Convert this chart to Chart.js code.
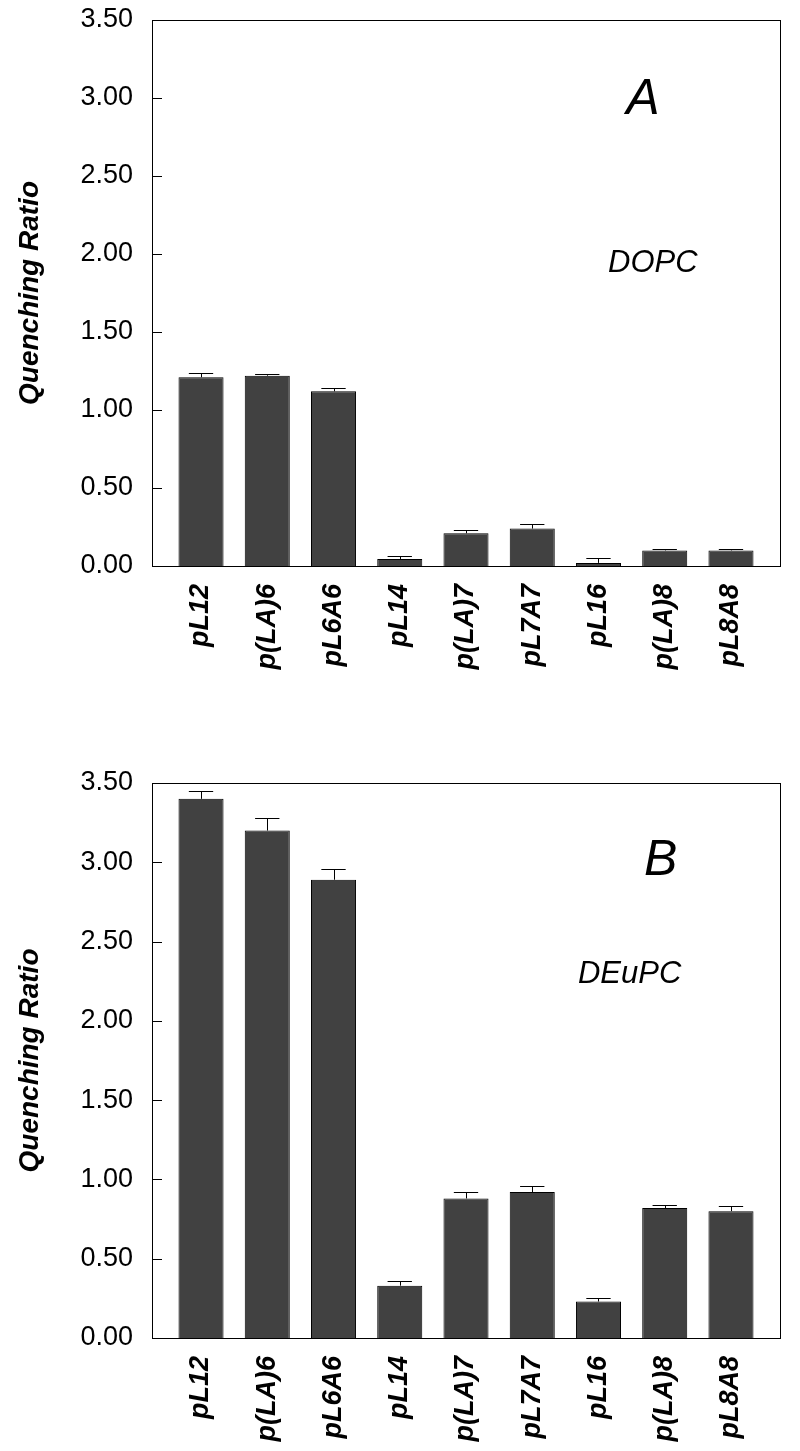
<!DOCTYPE html>
<html>
<head>
<meta charset="utf-8">
<script src="https://cdn.jsdelivr.net/npm/chart.js@4/dist/chart.umd.min.js"></script>
<style>
  body { margin: 0; background: #fff; }
  canvas { display: block; }
</style>
</head>
<body>
<canvas id="chartA" width="800" height="725"></canvas>
<canvas id="chartB" width="800" height="726"></canvas>
<script>
var peptides = ['pL12', 'p(LA)6', 'pL6A6', 'pL14', 'p(LA)7', 'pL7A7', 'pL16', 'p(LA)8', 'pL8A8'];
var yTicks = [0, 0.5, 1, 1.5, 2, 2.5, 3, 3.5];

// panel A, DOPC
var ratioA = [1.21, 1.22, 1.12, 0.045, 0.21, 0.24, 0.02, 0.10, 0.10];
var errA   = [0.03, 0.01, 0.02, 0.02, 0.02, 0.03, 0.03, 0.01, 0.01];

// panel B, DEuPC
var ratioB = [3.40, 3.20, 2.89, 0.33, 0.88, 0.92, 0.23, 0.82, 0.80];
var errB   = [0.05, 0.08, 0.07, 0.03, 0.04, 0.04, 0.02, 0.02, 0.035];

var FONT = "'Liberation Sans', Arial, sans-serif";

// draws the frame, inward y ticks, error bars and the panel labels
function panelPlugin(errs, letter, letterPos, lipid, lipidPos) {
    return {
        id: 'panel' + letter,
        afterDatasetsDraw: function (chart) {
            var ctx = chart.ctx;
            var area = chart.chartArea;
            var xs = chart.scales.x, ys = chart.scales.y;
            var meta = chart.getDatasetMeta(0);
            var vals = chart.data.datasets[0].data;
            ctx.save();
            ctx.strokeStyle = '#000';
            ctx.lineWidth = 1;
            // error bars (upper half only shows)
            for (var i = 0; i < meta.data.length; i++) {
                var bar = meta.data[i];
                var yTop = ys.getPixelForValue(vals[i].y);
                var yErr = ys.getPixelForValue(vals[i].y + errs[i]);
                var half = bar.width * 0.27;
                ctx.beginPath();
                ctx.moveTo(Math.round(bar.x) + 0.5, yTop);
                ctx.lineTo(Math.round(bar.x) + 0.5, Math.round(yErr) + 0.5);
                ctx.moveTo(bar.x - half, Math.round(yErr) + 0.5);
                ctx.lineTo(bar.x + half, Math.round(yErr) + 0.5);
                ctx.stroke();
            }
            // frame
            ctx.strokeRect(Math.round(area.left) + 0.5, Math.round(area.top) + 0.5,
                Math.round(area.right - area.left), Math.round(area.bottom - area.top));
            // inward ticks on left axis
            ys.ticks.forEach(function (t) {
                var py = Math.round(ys.getPixelForValue(t.value)) + 0.5;
                ctx.beginPath();
                ctx.moveTo(area.left, py);
                ctx.lineTo(area.left + 10, py);
                ctx.stroke();
            });
            // panel letter and lipid name
            ctx.fillStyle = '#000';
            ctx.textAlign = 'center';
            ctx.textBaseline = 'alphabetic';
            ctx.font = 'italic 50px ' + FONT;
            ctx.fillText(letter, xs.getPixelForValue(letterPos[0]), ys.getPixelForValue(letterPos[1]));
            ctx.font = 'italic 31px ' + FONT;
            ctx.fillText(lipid, xs.getPixelForValue(lipidPos[0]), ys.getPixelForValue(lipidPos[1]));
            ctx.restore();
        }
    };
}

function makeChart(id, values, errs, padTop, axisHeight, letter, letterPos, lipid, lipidPos) {
    var points = [];
    for (var i = 0; i < peptides.length; i++) {
        points.push({ x: i, y: values[i] });
    }
    return new Chart(document.getElementById(id), {
        type: 'bar',
        data: {
            datasets: [{
                data: points,
                backgroundColor: '#414141',
                borderColor: '#000',
                borderWidth: 1,
                barPercentage: 0.68,
                categoryPercentage: 1
            }]
        },
        options: {
            responsive: false,
            animation: false,
            events: [],
            layout: { padding: { left: 0, right: 20, top: padTop, bottom: 0 } },
            plugins: {
                legend: { display: false },
                tooltip: { enabled: false }
            },
            scales: {
                x: {
                    type: 'linear',
                    offset: false,
                    min: -0.74,
                    max: 8.74,
                    grid: { display: false, drawTicks: false, offset: false },
                    border: { display: false },
                    afterBuildTicks: function (scale) {
                        scale.ticks = peptides.map(function (p, i) { return { value: i }; });
                    },
                    afterFit: function (scale) {
                        scale.height = axisHeight;
                        scale.paddingLeft = 0;
                        scale.paddingRight = 0;
                    },
                    ticks: {
                        autoSkip: false,
                        minRotation: 90,
                        maxRotation: 90,
                        padding: 18,
                        color: '#000',
                        font: { family: FONT, size: 27, weight: 'bold', style: 'italic' },
                        callback: function (v) { return peptides[v]; }
                    }
                },
                y: {
                    min: 0,
                    max: 3.5,
                    grid: { display: false, drawTicks: false },
                    border: { display: false },
                    afterBuildTicks: function (scale) {
                        scale.ticks = yTicks.map(function (v) { return { value: v }; });
                    },
                    afterFit: function (scale) {
                        scale.width = 152;
                        scale.paddingTop = 0;
                        scale.paddingBottom = 0;
                    },
                    ticks: {
                        padding: 19,
                        color: '#000',
                        font: { family: FONT, size: 27 },
                        callback: function (v) { return v.toFixed(2); }
                    },
                    title: {
                        display: true,
                        text: 'Quenching Ratio',
                        color: '#000',
                        padding: { top: 13, bottom: 0 },
                        font: { family: FONT, size: 28, weight: 'bold', style: 'italic' }
                    }
                }
            }
        },
        plugins: [panelPlugin(errs, letter, letterPos, lipid, lipidPos)]
    });
}

makeChart('chartA', ratioA, errA, 20, 159, 'A', [6.67, 2.90], 'DOPC', [6.82, 1.885]);
makeChart('chartB', ratioB, errB, 58, 113, 'B', [6.94, 2.92], 'DEuPC', [6.47, 2.24]);
</script>
</body>
</html>
